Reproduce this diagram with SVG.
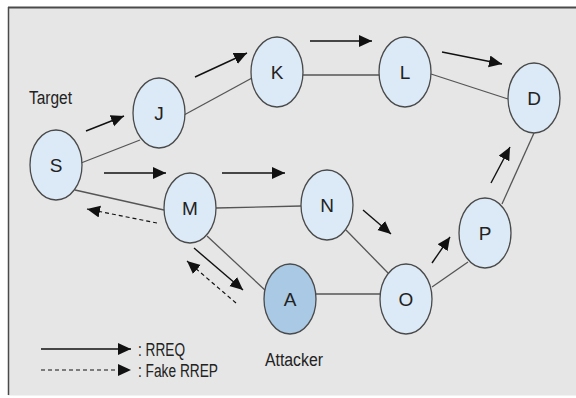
<svg xmlns="http://www.w3.org/2000/svg" width="576" height="398" viewBox="0 0 576 398">
<defs>
<style>
.node{fill:#dceaf7;stroke:#4a4a4a;stroke-width:1.3}
.atk{fill:#a9c9e4;stroke:#4a4a4a;stroke-width:1.3}
.lbl{font-family:"Liberation Sans",Arial,sans-serif;font-size:19px;fill:#222;text-anchor:middle}
.txt{font-family:"Liberation Sans",Arial,sans-serif;font-size:18px;fill:#222}
.edge{stroke:#555;stroke-width:1.3;fill:none}
.arr{stroke:#111;stroke-width:1.4;fill:none;marker-end:url(#ah)}
.dash{stroke:#111;stroke-width:1.2;fill:none;stroke-dasharray:4 3;marker-end:url(#ah)}
</style>
<marker id="ah" markerUnits="userSpaceOnUse" markerWidth="15" markerHeight="13" refX="13" refY="6" orient="auto">
<path d="M0,0 L13,6 L0,12 z" fill="#111"/>
</marker>
</defs>
<rect x="0" y="0" width="576" height="398" fill="#fff"/>
<rect x="8" y="7" width="568" height="388" fill="#e6e6e6"/>
<line x1="8" y1="7.5" x2="576" y2="7.5" stroke="#4a4a4a" stroke-width="2"/>
<line x1="8.5" y1="7" x2="8.5" y2="395" stroke="#4a4a4a" stroke-width="1.5"/>
<line x1="8" y1="395.5" x2="576" y2="395.5" stroke="#f2f2f2" stroke-width="1"/>
<g id="connectors">
<line class="edge" x1="81" y1="163" x2="140" y2="140"/>
<line class="edge" x1="184" y1="115" x2="252" y2="78"/>
<line class="edge" x1="303" y1="75" x2="380" y2="75"/>
<line class="edge" x1="431" y1="74" x2="508" y2="99"/>
<line class="edge" x1="75" y1="190" x2="164" y2="210"/>
<line class="edge" x1="216" y1="208" x2="301" y2="206"/>
<line class="edge" x1="207" y1="236" x2="266" y2="291"/>
<line class="edge" x1="346" y1="230" x2="388" y2="273"/>
<line class="edge" x1="316" y1="294" x2="381" y2="294"/>
<line class="edge" x1="432" y1="287" x2="468" y2="262"/>
<line class="edge" x1="502" y1="204" x2="534" y2="133"/>
<line class="arr" x1="86" y1="131" x2="124" y2="116"/>
<line class="arr" x1="195" y1="77" x2="247" y2="53"/>
<line class="arr" x1="104" y1="173" x2="166" y2="173"/>
<line class="arr" x1="222" y1="173" x2="285" y2="173"/>
<line class="arr" x1="310" y1="41" x2="372" y2="41"/>
<line class="arr" x1="442" y1="52" x2="502" y2="64"/>
<line class="arr" x1="491" y1="183" x2="510" y2="147"/>
<line class="arr" x1="363" y1="210" x2="391" y2="234"/>
<line class="arr" x1="432" y1="263" x2="450" y2="237"/>
<line class="arr" x1="194" y1="248" x2="243" y2="290"/>
<line class="dash" x1="236" y1="303" x2="187" y2="261"/>
<line class="dash" x1="157" y1="223" x2="87" y2="209"/>
<line class="arr" x1="41" y1="349" x2="131" y2="349"/>
<line class="dash" x1="41" y1="370" x2="131" y2="370"/>
</g>
<g id="S"><ellipse class="node" cx="56" cy="165" rx="26" ry="35"/><text class="lbl" x="56" y="172">S</text></g>
<g id="J"><ellipse class="node" cx="159" cy="113" rx="26" ry="35"/><text class="lbl" x="159" y="120">J</text></g>
<g id="K"><ellipse class="node" cx="277" cy="72" rx="26" ry="35"/><text class="lbl" x="277" y="79">K</text></g>
<g id="L"><ellipse class="node" cx="405" cy="72" rx="26" ry="35"/><text class="lbl" x="405" y="79">L</text></g>
<g id="D"><ellipse class="node" cx="534" cy="98" rx="26" ry="35"/><text class="lbl" x="534" y="105">D</text></g>
<g id="M"><ellipse class="node" cx="190" cy="208" rx="26" ry="35"/><text class="lbl" x="190" y="215">M</text></g>
<g id="N"><ellipse class="node" cx="327" cy="205" rx="26" ry="35"/><text class="lbl" x="327" y="212">N</text></g>
<g id="A"><ellipse class="atk" cx="290" cy="299" rx="26" ry="35"/><text class="lbl" x="290" y="306">A</text></g>
<g id="O"><ellipse class="node" cx="406" cy="299" rx="26" ry="35"/><text class="lbl" x="406" y="306">O</text></g>
<g id="P"><ellipse class="node" cx="485" cy="233" rx="26" ry="35"/><text class="lbl" x="485" y="240">P</text></g>
<text class="txt" x="29" y="104" textLength="43" lengthAdjust="spacingAndGlyphs">Target</text>
<text class="txt" x="265" y="366" textLength="58" lengthAdjust="spacingAndGlyphs">Attacker</text>
<text class="txt" x="138" y="356" textLength="47" lengthAdjust="spacingAndGlyphs">: RREQ</text>
<text class="txt" x="138" y="377" textLength="80" lengthAdjust="spacingAndGlyphs">: Fake RREP</text>
</svg>
